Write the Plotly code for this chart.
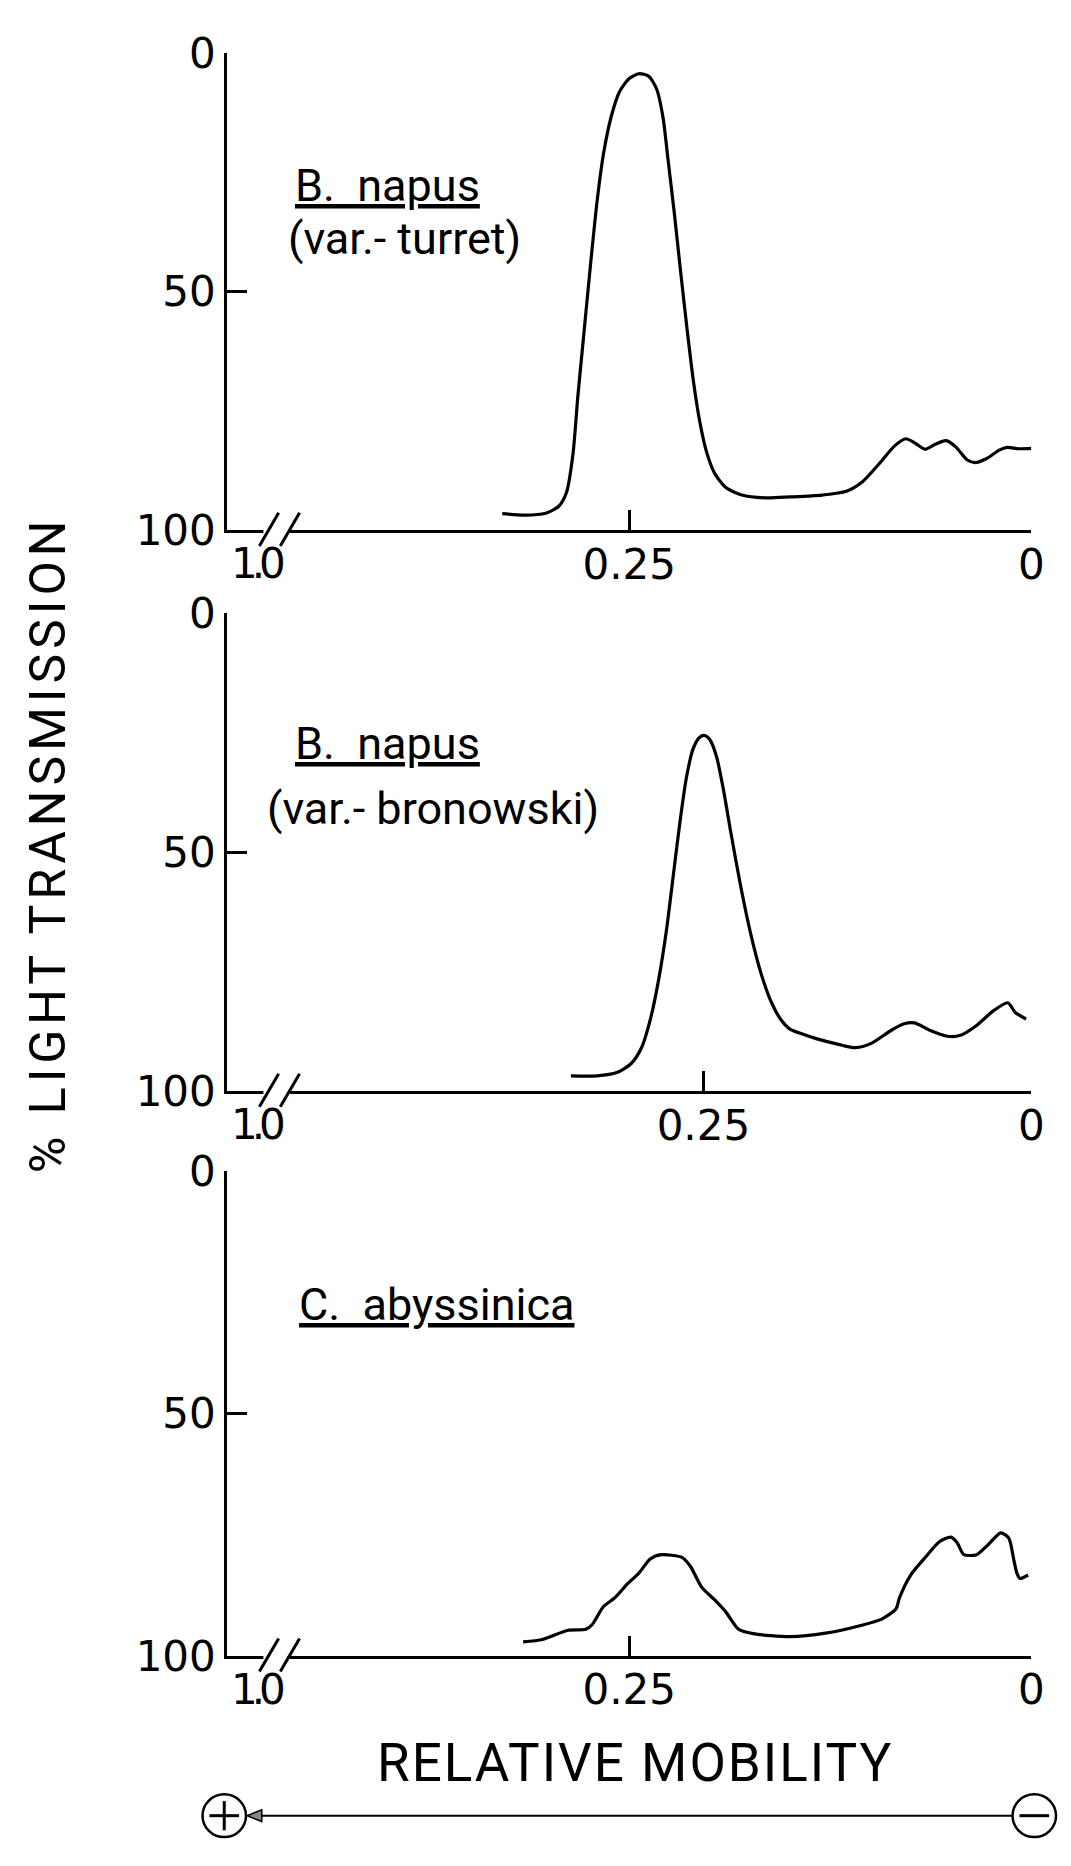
import plotly.graph_objects as go

W, H = 1071, 1866

# ---------------- data ----------------
# Panel 1: B. napus (var.-turret)
mob_turret = [0.329, 0.315, 0.302, 0.294, 0.289, 0.285, 0.282, 0.278, 0.274, 0.270,
              0.266, 0.261, 0.256, 0.250, 0.244, 0.238, 0.233, 0.229, 0.226, 0.222,
              0.218, 0.214, 0.210, 0.206, 0.202, 0.197, 0.190, 0.180, 0.165, 0.150,
              0.130, 0.115, 0.105, 0.094, 0.085, 0.078, 0.072, 0.066, 0.060, 0.053,
              0.047, 0.040, 0.035, 0.028, 0.020, 0.015, 0.008, 0.000]
trans_turret = [96.5, 96.8, 96.4, 95.0, 92.0, 84.0, 72.0, 58.0, 44.0, 31.0,
                21.0, 13.0, 8.0, 5.3, 4.3, 4.8, 7.5, 13.5, 22.0, 33.5,
                46.0, 58.0, 69.0, 77.5, 83.5, 88.0, 91.0, 92.6, 93.2, 93.0,
                92.6, 91.8, 89.8, 85.8, 82.3, 80.8, 81.8, 83.0, 82.0, 81.2,
                82.5, 85.2, 85.8, 85.0, 83.2, 82.6, 82.9, 82.8]

# Panel 2: B. napus (var.- bronowski)
mob_bronowski = [0.351, 0.331, 0.316, 0.305, 0.297, 0.290, 0.284, 0.278, 0.273, 0.268,
                 0.263, 0.258, 0.253, 0.249, 0.245, 0.240, 0.235, 0.229, 0.222, 0.214,
                 0.206, 0.198, 0.191, 0.184, 0.175, 0.164, 0.147, 0.134, 0.122, 0.107,
                 0.097, 0.089, 0.077, 0.064, 0.054, 0.042, 0.029, 0.018, 0.012, 0.004]
trans_bronowski = [96.8, 96.8, 96.1, 94.2, 90.8, 84.5, 76.5, 66.0, 55.0, 44.0,
                   34.5, 28.5, 26.0, 25.6, 26.5, 30.0, 36.5, 46.0, 56.5, 67.0,
                   75.4, 81.5, 85.0, 87.0, 88.0, 89.0, 90.2, 90.9, 90.0, 87.3,
                   85.9, 85.7, 87.3, 88.5, 88.3, 86.3, 83.2, 81.5, 83.6, 84.9]

# Panel 3: C. abyssinica
mob_abyssinica = [0.316, 0.304, 0.288, 0.277, 0.273, 0.266, 0.259, 0.251, 0.244, 0.237,
                  0.230, 0.217, 0.212, 0.205, 0.197, 0.190, 0.182, 0.173, 0.150, 0.128,
                  0.106, 0.093, 0.084, 0.082, 0.075, 0.066, 0.057, 0.050, 0.046, 0.042,
                  0.034, 0.027, 0.019, 0.014, 0.011, 0.009, 0.007, 0.002]
trans_abyssinica = [97.1, 96.6, 94.7, 94.5, 93.5, 89.8, 88.0, 85.1, 82.9, 80.0,
                    79.1, 79.7, 81.5, 85.8, 88.4, 90.9, 94.5, 95.4, 96.0, 95.3,
                    93.7, 92.4, 90.2, 88.0, 83.3, 79.7, 76.4, 75.5, 76.7, 79.1,
                    79.1, 77.1, 74.6, 75.7, 80.0, 82.9, 84.0, 83.3]

panel_mob = [mob_turret, mob_bronowski, mob_abyssinica]
panel_trans = [trans_turret, trans_bronowski, trans_abyssinica]
panel_labels = ["<u>B.\u00a0\u00a0napus</u>", "<u>B.\u00a0\u00a0napus</u>", "<u>C.\u00a0\u00a0abyssinica</u>"]
panel_sublabels = ["(var.-\u00a0turret)", "(var.-\u00a0bronowski)", None]

y_tick_vals = [0, 50, 100]
y_tick_text = ["0", "50", "100"]
x_tick_vals = [0.25, 0]
x_tick_text = ["0.25", "0"]
break_label = "1.0"
x_range_max = [0.5, 0.613, 0.5]   # value at the broken left end of each axis

y_title = "% LIGHT TRANSMISSION"
x_title = "RELATIVE MOBILITY"

# ---------------- layout helpers ----------------
def px_x(p):
    return p / W

def px_y(p):
    return 1 - p / H

TXT = "Roboto"
NUM = "DejaVu Sans"
X0, X1 = 230, 1044
panel_px = [(30, 520), (605, 1096), (1178, 1676)]   # top (0 %) / bottom (100 %)
label_px = [(297, 166, 290, 220), (297, 739, 268, 806), (301, 1315, None, None)]

fig = go.Figure()
layout_axes = {}
shapes = []
annotations = []

tickfont = dict(family=NUM, size=42, color="black")
for i in range(3):
    n = i + 1
    xa = "x" if n == 1 else f"x{n}"
    ya = "y" if n == 1 else f"y{n}"
    fig.add_trace(go.Scatter(
        x=panel_mob[i], y=panel_trans[i], mode="lines",
        line=dict(color="black", width=3.2, shape="spline", smoothing=0.7),
        xaxis=xa, yaxis=ya, hoverinfo="skip", showlegend=False))
    top, bot = panel_px[i]
    layout_axes[f"xaxis{'' if n == 1 else n}"] = dict(
        domain=[px_x(X0), px_x(X1)], anchor=ya, range=[x_range_max[i], 0],
        showline=True, linecolor="black", linewidth=3, showgrid=False, zeroline=False,
        ticks="inside", ticklen=20, tickwidth=3, tickcolor="black",
        tickvals=x_tick_vals, ticktext=x_tick_text, tickfont=tickfont,
        ticklabelstandoff=-5, fixedrange=True)
    layout_axes[f"yaxis{'' if n == 1 else n}"] = dict(
        domain=[px_y(bot), px_y(top)], anchor=xa, range=[100, 0],
        showline=True, linecolor="black", linewidth=3, showgrid=False, zeroline=False,
        ticks="inside", ticklen=20, tickwidth=3, tickcolor="black",
        tickvals=y_tick_vals, ticktext=y_tick_text, tickfont=tickfont,
        fixedrange=True)
    xd = f"{xa} domain"
    yd = f"{ya} domain"
    ph = bot - top
    # axis break: white gap + two slashes
    shapes.append(dict(type="line", xref=xd, yref=yd, x0=0.045, x1=0.078, y0=0, y1=0,
                       line=dict(color="white", width=8), layer="above"))
    for sx in (0.040, 0.066):
        shapes.append(dict(type="line", xref=xd, yref=yd,
                           x0=sx, y0=-16 / ph, x1=sx + 0.024, y1=18 / ph,
                           line=dict(color="black", width=3), layer="above"))
    annotations.append(dict(text=f'<span style="letter-spacing:-6px">{break_label}</span>',
                            xref=xd, yref=yd, x=2 / (X1 - X0), y=0,
                            xanchor="left", yanchor="top", yshift=-7, showarrow=False,
                            font=tickfont))
    lx, ly, sx2, sy2 = label_px[i]
    annotations.append(dict(text=panel_labels[i], xref="paper", yref="paper",
                            x=px_x(lx), y=px_y(ly), xanchor="left", yanchor="middle",
                            showarrow=False,
                            font=dict(family=TXT, size=45, color="black")))
    if panel_sublabels[i]:
        annotations.append(dict(text=panel_sublabels[i], xref="paper", yref="paper",
                                x=px_x(sx2), y=px_y(sy2), xanchor="left", yanchor="middle",
                                showarrow=False,
                                font=dict(family=TXT, size=45, color="black")))

# axis titles
annotations.append(dict(text=f'<span style="letter-spacing:5px">{y_title}</span>',
                        xref="paper", yref="paper", x=px_x(48), y=px_y(842),
                        textangle=-90, xanchor="center", yanchor="middle", showarrow=False,
                        font=dict(family=TXT, size=50, color="black")))
annotations.append(dict(text=f'<span style="letter-spacing:2px">{x_title}</span>',
                        xref="paper", yref="paper", x=px_x(643), y=px_y(1786),
                        xanchor="center", yanchor="middle", showarrow=False,
                        font=dict(family=TXT, size=53, color="black")))

# electrode arrow (+) <---- (-)
cy, r = 1840, 22
cxp, cxm = 227, 1047
for cx in (cxp, cxm):
    shapes.append(dict(type="circle", xref="paper", yref="paper",
                       x0=px_x(cx - r), x1=px_x(cx + r), y0=px_y(cy + r), y1=px_y(cy - r),
                       line=dict(color="black", width=2.5)))
for cx in (cxp, cxm):
    shapes.append(dict(type="line", xref="paper", yref="paper",
                       x0=px_x(cx - 15), x1=px_x(cx + 15), y0=px_y(cy), y1=px_y(cy),
                       line=dict(color="black", width=3)))
shapes.append(dict(type="line", xref="paper", yref="paper",
                   x0=px_x(cxp), x1=px_x(cxp), y0=px_y(cy - 15), y1=px_y(cy + 15),
                   line=dict(color="black", width=3)))
shapes.append(dict(type="line", xref="paper", yref="paper",
                   x0=px_x(cxp + r + 12), x1=px_x(cxm - r), y0=px_y(cy), y1=px_y(cy),
                   line=dict(color="black", width=2)))
tip = cxp + r + 1
shapes.append(dict(type="path", xref="paper", yref="paper",
                   path=f"M {px_x(tip)} {px_y(cy)} L {px_x(tip + 15)} {px_y(cy - 6)} "
                        f"L {px_x(tip + 15)} {px_y(cy + 6)} Z",
                   fillcolor="#888888", line=dict(color="black", width=1.5)))

fig.update_layout(
    width=W, height=H, margin=dict(l=0, r=0, t=0, b=0),
    paper_bgcolor="white", plot_bgcolor="white", showlegend=False,
    shapes=shapes, annotations=annotations, **layout_axes)

fig.write_html("out.html")
